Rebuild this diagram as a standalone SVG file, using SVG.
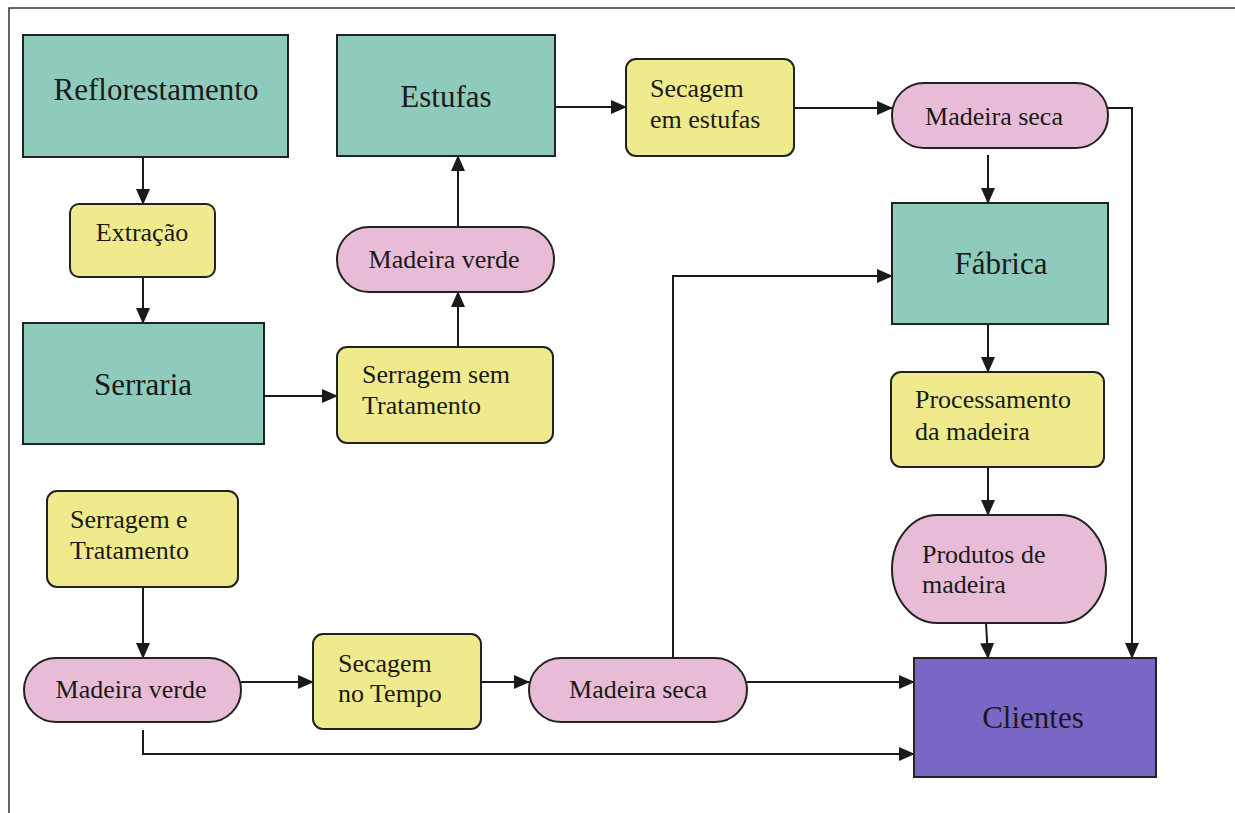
<svg xmlns="http://www.w3.org/2000/svg" width="1235" height="813" viewBox="0 0 1235 813">
<style>
.teal{fill:#8fcbbd;stroke:#222;stroke-width:2}
.yel{fill:#efeb8c;stroke:#222;stroke-width:2}
.pink{fill:#e8bcd6;stroke:#222;stroke-width:2}
.purp{fill:#7b68c6;stroke:#222;stroke-width:2}
.big{font-family:"Liberation Serif","Times New Roman",serif;font-size:31px;fill:#1a1a1a;text-anchor:middle}
.sm{font-family:"Liberation Serif","Times New Roman",serif;font-size:26px;fill:#1a1a1a}
.c{text-anchor:middle}
.conn{fill:none;stroke:#1a1a1a;stroke-width:2}
</style>
<defs>
<marker id="ah" markerWidth="16" markerHeight="14" refX="15" refY="7" orient="auto" markerUnits="userSpaceOnUse">
<path d="M0,0 L16,7 L0,14 Z" fill="#1a1a1a"/>
</marker>
</defs>
<rect x="0" y="0" width="1235" height="813" fill="#ffffff"/>
<rect x="9" y="8" width="1240" height="820" fill="none" stroke="#333" stroke-width="1.5"/>

<g id="connectors">
<path class="conn" d="M143,157 V204" marker-end="url(#ah)"/>
<path class="conn" d="M143,277 V323" marker-end="url(#ah)"/>
<path class="conn" d="M264,396 H337" marker-end="url(#ah)"/>
<path class="conn" d="M458,347 V292" marker-end="url(#ah)"/>
<path class="conn" d="M458,227 V156" marker-end="url(#ah)"/>
<path class="conn" d="M555,107 H626" marker-end="url(#ah)"/>
<path class="conn" d="M794,108 H892" marker-end="url(#ah)"/>
<path class="conn" d="M988,155 V203" marker-end="url(#ah)"/>
<path class="conn" d="M1108,108 H1132 V658" marker-end="url(#ah)"/>
<path class="conn" d="M143,587 V658" marker-end="url(#ah)"/>
<path class="conn" d="M241,682 H313" marker-end="url(#ah)"/>
<path class="conn" d="M481,682 H529" marker-end="url(#ah)"/>
<path class="conn" d="M673,658 V276 H892" marker-end="url(#ah)"/>
<path class="conn" d="M747,682 H914" marker-end="url(#ah)"/>
<path class="conn" d="M143,730 V754 H914" marker-end="url(#ah)"/>
<path class="conn" d="M988,324 V372" marker-end="url(#ah)"/>
<path class="conn" d="M988,467 V515" marker-end="url(#ah)"/>
<path class="conn" d="M986,623 L988,658" marker-end="url(#ah)"/>
</g>

<g id="reflorestamento">
<rect class="teal" x="23" y="35" width="265" height="122"/>
<text class="big" x="156" y="100">Reflorestamento</text>
</g>
<g id="estufas">
<rect class="teal" x="337" y="35" width="218" height="121"/>
<text class="big" x="446" y="107">Estufas</text>
</g>
<g id="secagem-estufas">
<rect class="yel" x="626" y="59" width="168" height="97" rx="10"/>
<text class="sm" x="650" y="97">Secagem</text>
<text class="sm" x="650" y="128">em estufas</text>
</g>
<g id="madeira-seca-top">
<rect class="pink" x="892" y="83" width="216" height="65" rx="32"/>
<text class="sm c" x="994" y="125">Madeira seca</text>
</g>
<g id="extracao">
<rect class="yel" x="70" y="204" width="145" height="73" rx="9"/>
<text class="sm c" x="142" y="241">Extração</text>
</g>
<g id="madeira-verde-mid">
<rect class="pink" x="337" y="227" width="217" height="65" rx="32"/>
<text class="sm c" x="444" y="268">Madeira verde</text>
</g>
<g id="fabrica">
<rect class="teal" x="892" y="203" width="216" height="121"/>
<text class="big" x="1001" y="274">Fábrica</text>
</g>
<g id="serraria">
<rect class="teal" x="23" y="323" width="241" height="121"/>
<text class="big" x="143" y="395">Serraria</text>
</g>
<g id="serragem-sem">
<rect class="yel" x="337" y="347" width="216" height="96" rx="10"/>
<text class="sm" x="362" y="383">Serragem sem</text>
<text class="sm" x="362" y="414">Tratamento</text>
</g>
<g id="processamento">
<rect class="yel" x="891" y="372" width="213" height="95" rx="10"/>
<text class="sm" x="915" y="408">Processamento</text>
<text class="sm" x="915" y="440">da madeira</text>
</g>
<g id="serragem-e">
<rect class="yel" x="47" y="491" width="191" height="96" rx="10"/>
<text class="sm" x="70" y="528">Serragem e</text>
<text class="sm" x="70" y="559">Tratamento</text>
</g>
<g id="produtos">
<rect class="pink" x="892" y="515" width="214" height="108" rx="45" ry="54"/>
<text class="sm" x="922" y="563">Produtos de</text>
<text class="sm" x="922" y="593">madeira</text>
</g>
<g id="madeira-verde-bottom">
<rect class="pink" x="24" y="658" width="217" height="64" rx="32"/>
<text class="sm c" x="131" y="698">Madeira verde</text>
</g>
<g id="secagem-tempo">
<rect class="yel" x="313" y="634" width="168" height="95" rx="10"/>
<text class="sm" x="338" y="672">Secagem</text>
<text class="sm" x="338" y="702">no Tempo</text>
</g>
<g id="madeira-seca-bottom">
<rect class="pink" x="529" y="658" width="218" height="64" rx="32"/>
<text class="sm c" x="638" y="698">Madeira seca</text>
</g>
<g id="clientes">
<rect class="purp" x="914" y="658" width="242" height="119"/>
<text class="big" x="1033" y="728">Clientes</text>
</g>
</svg>
